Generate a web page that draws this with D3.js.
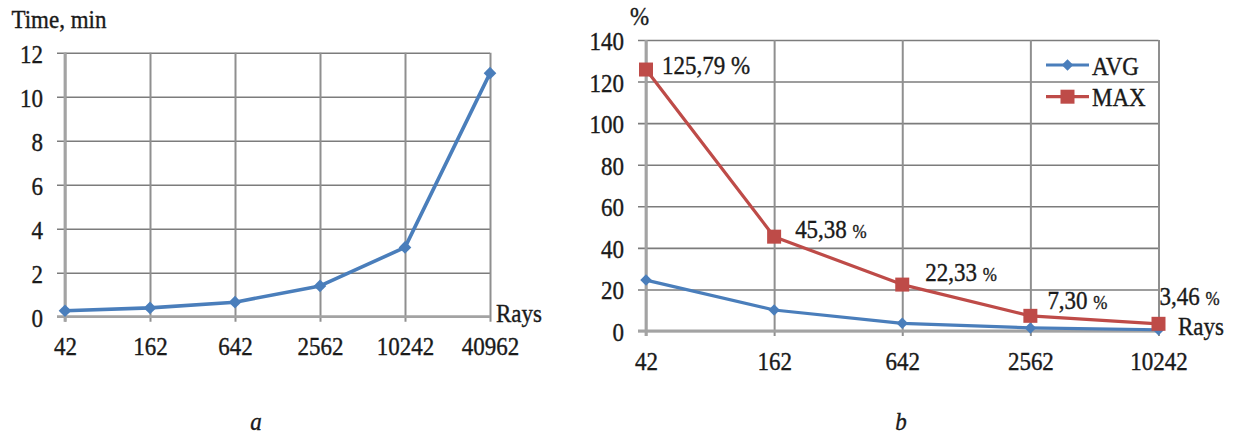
<!DOCTYPE html>
<html>
<head>
<meta charset="utf-8">
<script src="https://cdn.jsdelivr.net/npm/d3@7"></script>
<style>
  html, body { margin: 0; padding: 0; background: #fff; }
  svg { display: block; }
  svg text {
    font-family: "Liberation Serif", Tinos, "Times New Roman", "DejaVu Serif", serif;
    fill: #1a1a1a; stroke: #1a1a1a; stroke-width: 0.35px;
  }
</style>
</head>
<body>
<svg id="fig" width="1240" height="434"></svg>
<script>
// (a) computation time against number of rays
const raysA = ["42", "162", "642", "2562", "10242", "40962"];
const timeMin = [0.27, 0.40, 0.66, 1.40, 3.15, 11.07];
const timeTicks = [0, 2, 4, 6, 8, 10, 12];

// (b) relative error against number of rays
const raysB = ["42", "162", "642", "2562", "10242"];
const avgErr = [24.5, 10.1, 3.7, 1.5, 0.6];
const maxErr = [125.79, 45.38, 22.33, 7.30, 3.46];
const errTicks = [0, 20, 40, 60, 80, 100, 120, 140];
const seriesNames = ["AVG", "MAX"];

// label placement relative to each MAX point (dx, dy) and size of the % sign
const maxLabelOffset = [[16, 4.5], [21, 1.5], [23, -4], [17, -7], [1, -19]];
const pctSize = [23, 17, 17, 17, 17];

const FONT = '"Liberation Serif", Tinos, "Times New Roman", "DejaVu Serif", serif';
const FS = 23, SY = 1.12;
const BLUE = "#4a7ebb", RED = "#be4b48";
const svg = d3.select("#fig");

function stretchText(sel, tx, ty, anchor) {
  sel.attr("x", null).attr("y", null).attr("dy", null)
     .attr("transform", `translate(${tx},${ty}) scale(1,${SY})`)
     .attr("text-anchor", anchor)
     .style("font-size", FS + "px");
}

function label(str, x, y, opts = {}) {
  const t = svg.append("text")
    .attr("transform", `translate(${x},${y}) scale(1,${SY})`)
    .attr("text-anchor", opts.anchor || "start")
    .style("font-size", (opts.size || FS) + "px")
    .text(str);
  if (opts.italic) t.style("font-style", "italic");
  return t;
}

function frame(x, y, ticks) {
  const [x0, x1] = x.range();
  const [y0, y1] = y.range();
  const w = x1 - x0, h = y0 - y1;

  // horizontal grid + value labels
  const gy = svg.append("g").attr("transform", `translate(${x0},0)`)
    .call(d3.axisLeft(y).tickValues(ticks).tickSize(8).tickPadding(14));
  gy.attr("font-family", FONT);
  gy.select(".domain").remove();
  gy.selectAll(".tick line").attr("x1", -8).attr("x2", w)
    .attr("stroke", "#7c7c7c").attr("stroke-width", 1.6);
  stretchText(gy.selectAll(".tick text"), -22, 9.5, "end");

  // vertical grid + category labels
  const gx = svg.append("g").attr("transform", `translate(0,${y0})`)
    .call(d3.axisBottom(x).tickSize(5));
  gx.attr("font-family", FONT);
  gx.select(".domain").remove();
  gx.selectAll(".tick line").attr("y1", -h).attr("y2", 5)
    .attr("stroke", "#8f8f8f").attr("stroke-width", 2);
  stretchText(gx.selectAll(".tick text"), 0, 38.5, "middle");

  // axis lines
  svg.append("line").attr("x1", x0).attr("x2", x0).attr("y1", y1).attr("y2", y0 + 5)
    .attr("stroke", "#a3a3a3").attr("stroke-width", 2.8);
  svg.append("line").attr("x1", x0 - 8).attr("x2", x1).attr("y1", y0).attr("y2", y0)
    .attr("stroke", "#a3a3a3").attr("stroke-width", 2.8);
}

function series(x, y, cats, vals, color, width, size, rotate) {
  const line = d3.line().x((d, i) => x(cats[i])).y(d => y(d));
  svg.append("path").datum(vals).attr("d", line)
    .attr("fill", "none").attr("stroke", color).attr("stroke-width", width)
    .attr("stroke-linejoin", "round");
  svg.append("g").selectAll("path").data(vals).join("path")
    .attr("d", d3.symbol().type(d3.symbolSquare).size(size))
    .attr("transform", (d, i) => `translate(${x(cats[i])},${y(d)}) rotate(${rotate})`)
    .attr("fill", color);
}

// ---------- panel a ----------
const xa = d3.scalePoint().domain(raysA).range([65, 490]);
const ya = d3.scaleLinear().domain([0, 12]).range([316.7, 52.7]);
frame(xa, ya, timeTicks);
series(xa, ya, raysA, timeMin, BLUE, 3.6, 80, 45);
label("Time, min", 11.5, 28);
label("Rays", 496, 322);
label("a", 256, 430, { anchor: "middle", italic: true });

// ---------- panel b ----------
const xb = d3.scalePoint().domain(raysB).range([646, 1158.5]);
const yb = d3.scaleLinear().domain([0, 140]).range([331, 40]);
frame(xb, yb, errTicks);
series(xb, yb, raysB, avgErr, BLUE, 3.2, 66, 45);
series(xb, yb, raysB, maxErr, RED, 3.2, 196, 0);

const fmt = v => d3.format(".2f")(v).replace(".", ",");
maxErr.forEach((v, i) => {
  const t = label(fmt(v) + " ", xb(raysB[i]) + maxLabelOffset[i][0], yb(v) + maxLabelOffset[i][1]);
  t.append("tspan").style("font-size", pctSize[i] + "px").text("%");
});

label("%", 630, 25);
label("Rays", 1178, 335);
label("b", 901, 430, { anchor: "middle", italic: true });

// legend
const legendMarks = [{ color: BLUE, size: 66, rot: 45, y: 65 }, { color: RED, size: 196, rot: 0, y: 96.7 }];
legendMarks.forEach((m, i) => {
  svg.append("line").attr("x1", 1046).attr("x2", 1089).attr("y1", m.y).attr("y2", m.y)
    .attr("stroke", m.color).attr("stroke-width", 3.2);
  svg.append("path").attr("d", d3.symbol().type(d3.symbolSquare).size(m.size))
    .attr("transform", `translate(1067.5,${m.y}) rotate(${m.rot})`).attr("fill", m.color);
  label(seriesNames[i], 1092, m.y + 9.5);
});
</script>
</body>
</html>
